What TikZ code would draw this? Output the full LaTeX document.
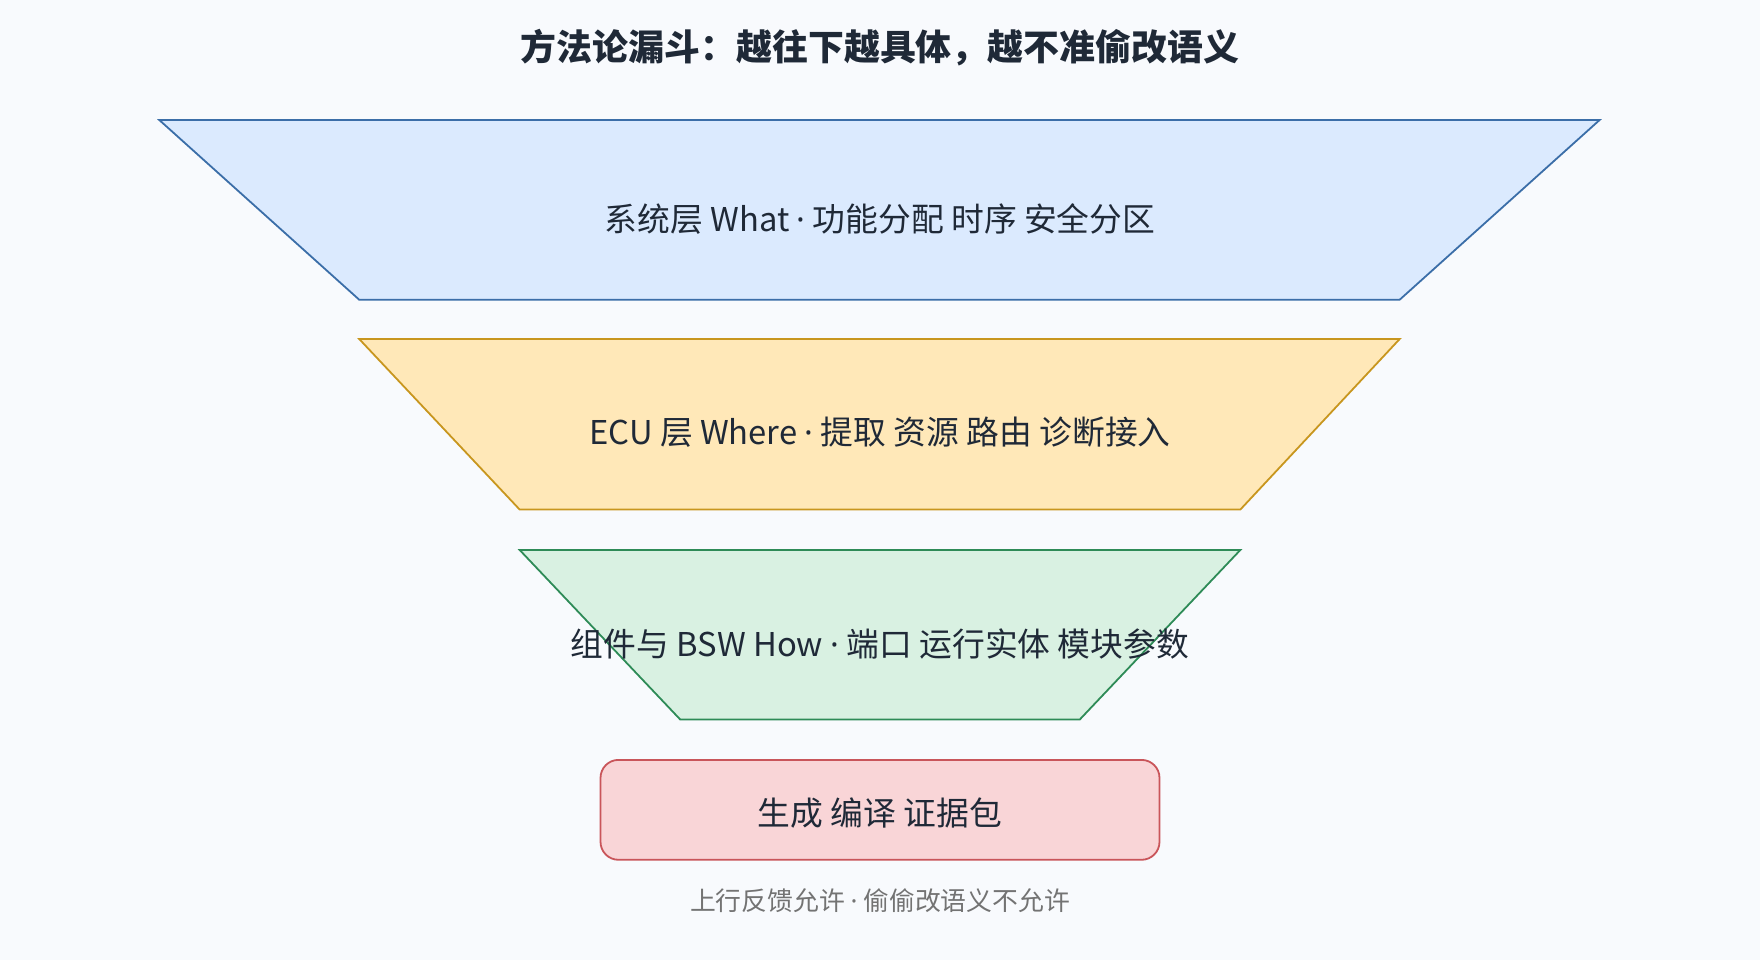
\documentclass[tikz,border=0pt]{standalone}
\usepackage{fontspec}
\setmainfont{Noto Sans CJK SC}
\newfontfamily\latf{Noto Sans}
\newcommand{\mdt}{{\latf ·}}
\begin{document}
\begin{tikzpicture}[x=0.5pt,y=-0.5pt,
  lay/.style={line width=0.8pt,line join=miter},
  lbl/.style={font=\fontsize{14.6}{16}\selectfont,text=txt},
]
\definecolor{bg}{HTML}{F8FAFD}
\definecolor{txt}{HTML}{1F2937}
\definecolor{f1}{HTML}{DBEAFE}\definecolor{s1}{HTML}{3B6EA8}
\definecolor{f2}{HTML}{FFE8B8}\definecolor{s2}{HTML}{C8961E}
\definecolor{f3}{HTML}{D9F1E2}\definecolor{s3}{HTML}{2E8B57}
\definecolor{f4}{HTML}{F9D5D7}\definecolor{s4}{HTML}{C9555A}
\fill[bg] (0,0) rectangle (1568,855);
\useasboundingbox (0,0) rectangle (1568,855);
\node[font=\fontsize{16}{18}\selectfont\bfseries,text=txt] (title) at (784,42) {方法论漏斗：越往下越具体，越不准偷改语义};
\draw[lay,fill=f1,draw=s1] (142,107) -- (1425,107) -- (1247,267) -- (320,267) -- cycle;
\node[lbl] (l1) at (784,195) {系统层 What \mdt{} 功能分配 时序 安全分区};
\draw[lay,fill=f2,draw=s2] (320,302) -- (1247,302) -- (1105,454) -- (463,454) -- cycle;
\node[lbl] (l2) at (784,385) {ECU 层 Where \mdt{} 提取 资源 路由 诊断接入};
\draw[lay,fill=f3,draw=s3] (463,490) -- (1105,490) -- (962,641) -- (606,641) -- cycle;
\node[lbl] (l3) at (784,574) {组件与 BSW How \mdt{} 端口 运行实体 模块参数};
\draw[lay,fill=f4,draw=s4,rounded corners=8pt] (535,677) rectangle (1033,766);
\node[lbl] (l4) at (784,724) {生成 编译 证据包};
\node[font=\fontsize{11.5}{13}\selectfont,text=gray!90!black] (foot) at (784,802) {上行反馈允许 \mdt{} 偷偷改语义不允许};
\end{tikzpicture}
\end{document}
